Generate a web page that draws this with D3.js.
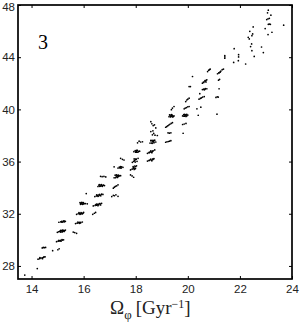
<!DOCTYPE html>
<html>
<head>
<meta charset="utf-8">
<script src="https://cdn.jsdelivr.net/npm/d3@7"></script>
<style>
  html, body { margin: 0; padding: 0; background: #fff; }
  svg { display: block; }
</style>
</head>
<body>
<div id="chart"></div>
<script>
// Values, one line per clump of points.
const omega = [
  13.74, 14.22,
  14.25, 14.31, 14.36, 14.41, 14.46, 14.52, 14.32, 14.42, 14.48,
  14.41, 14.45, 14.49, 14.54,
  14.81, 15.01, 15.06,
  14.96, 15.02, 15.07, 15.12, 15.18, 15.23, 15.05, 15.13, 15.17,
  14.99, 15.04, 15.08, 15.11, 15.15, 15.18, 15.22, 15.27, 15.3, 15.12, 15.17, 15.21, 15.1, 15.19, 15.25,
  15.05, 15.12, 15.16, 15.2, 15.25, 15.3, 15.16, 15.22, 15.26,
  15.6, 15.66, 15.73,
  15.69, 15.75, 15.8, 15.84, 15.89, 15.95, 15.78, 15.84, 15.88,
  15.73, 15.79, 15.84, 15.88, 15.92, 15.96, 16.0, 15.82, 15.86, 15.9, 15.94, 15.98,
  15.86, 15.88, 15.91, 15.94, 15.97, 16.0, 16.07, 16.14, 16.1, 15.9, 15.93, 15.96, 15.99, 16.02, 15.89,
  16.35, 16.41, 16.46,
  16.37, 16.44, 16.5, 16.54, 16.58, 16.63, 16.69, 16.5, 16.55, 16.6, 16.65, 16.47,
  16.43, 16.49, 16.53, 16.57, 16.6, 16.64, 16.69, 16.74, 16.5, 16.55, 16.6, 16.66, 16.62,
  16.55, 16.59, 16.62, 16.66, 16.7, 16.74, 16.8, 16.6, 16.65, 16.68, 16.72, 16.76,
  16.65, 16.71, 16.78, 16.85,
  17.08, 17.14, 17.18, 17.24, 17.32,
  17.14, 17.18, 17.22, 17.27, 17.32,
  17.17, 17.21, 17.25, 17.29, 17.33, 17.37, 17.42, 17.22, 17.26, 17.3, 17.34, 17.28,
  17.17, 17.32, 17.37, 17.42, 17.46, 17.51, 17.38, 17.42, 17.44,
  17.8, 17.86, 17.92,
  17.8, 17.86, 17.9, 17.93, 17.97, 18.0, 18.03, 17.9, 17.94, 17.96, 17.99, 17.92,
  17.42, 17.49, 17.55,
  17.87, 17.92, 17.96, 18.0, 18.05, 18.09, 17.94, 17.98, 18.02, 17.96,
  17.93, 17.98, 18.02, 18.06, 18.11, 18.15, 18.0, 18.04, 18.08, 18.02,
  18.07, 18.13, 18.19, 18.26,
  18.45, 18.51, 18.56, 18.61, 18.66, 18.7, 18.52, 18.58, 18.62, 18.66,
  18.45, 18.51, 18.56, 18.61, 18.67, 18.73, 18.52, 18.58, 18.62, 18.64,
  18.55, 18.59, 18.63, 18.67, 18.7, 18.73, 18.77, 18.58, 18.62, 18.66, 18.7, 18.64, 18.68,
  18.58, 18.64, 18.69, 18.74, 18.83, 18.66,
  18.58, 18.62, 18.67, 18.72, 18.77,
  19.15, 19.2, 19.25, 19.3, 19.35,
  19.24, 19.29, 19.35,
  19.15, 19.19, 19.23, 19.27, 19.31, 19.36, 19.41,
  19.28, 19.32, 19.36, 19.4, 19.44, 19.47, 19.3, 19.34, 19.38, 19.42, 19.36,
  19.37, 19.41, 19.47,
  19.8, 19.86, 19.93,
  19.82,
  19.8, 19.84, 19.88, 19.92, 19.96, 20.0, 19.85, 19.88, 19.93, 19.96, 19.9,
  19.86, 19.9, 19.95, 20.0, 20.05,
  19.92, 19.96, 20.0, 20.05,
  20.46, 20.05, 20.1, 20.18,
  20.35, 20.5, 20.4,
  20.43, 20.48, 20.52, 20.57, 20.63,
  20.56, 20.61, 20.66, 20.73, 20.63, 20.67,
  20.56, 20.61, 20.66, 20.7, 20.73, 20.6, 20.66, 20.7,
  20.76, 20.8, 20.83, 20.86,
  21.12,
  21.08, 21.13, 21.17,
  21.2,
  21.18, 21.22,
  21.14, 21.19, 21.24, 21.27, 21.32, 21.37, 21.25, 21.2,
  21.42, 21.42, 21.42,
  21.78,
  21.76, 21.94, 21.95, 21.95,
  22.22,
  22.45, 22.41, 22.46, 22.55,
  22.32, 22.36, 22.49, 22.38, 22.51, 22.46,
  22.83, 22.9,
  22.97, 23.08, 23.23,
  23.09, 23.13, 23.17,
  23.03, 23.08, 23.13,
  23.09, 23.06, 23.19,
  23.68
];

const angMom = [
  27.3, 27.8,
  28.52, 28.56, 28.6, 28.62, 28.66, 28.7, 28.64, 28.56, 28.7,
  29.38, 29.42, 29.4, 29.42,
  29.17, 29.24, 29.32,
  29.86, 29.9, 29.92, 29.96, 29.98, 30.0, 29.96, 29.9, 30.02,
  30.58, 30.62, 30.66, 30.6, 30.7, 30.65, 30.72, 30.7, 30.75, 30.72, 30.6, 30.66, 30.66, 30.74, 30.64,
  31.35, 31.38, 31.42, 31.36, 31.45, 31.42, 31.36, 31.44, 31.38,
  30.6, 30.56, 30.5,
  31.25, 31.28, 31.31, 31.27, 31.34, 31.37, 31.36, 31.34, 31.3,
  31.96, 32.0, 32.03, 31.99, 32.05, 32.02, 32.1, 32.08, 31.96, 32.08, 31.98, 32.06,
  32.85, 32.72, 32.84, 32.74, 32.83, 32.76, 32.78, 32.76, 33.55, 32.78, 32.88, 32.72, 32.86, 32.78, 32.8,
  31.96, 32.04, 32.1,
  32.6, 32.64, 32.66, 32.72, 32.7, 32.78, 32.8, 32.74, 32.62, 32.78, 32.68, 32.7,
  33.32, 33.36, 33.42, 33.36, 33.46, 33.4, 33.5, 33.48, 33.44, 33.34, 33.46, 33.38, 33.46,
  34.09, 34.18, 34.1, 34.2, 34.14, 34.18, 34.16, 34.24, 34.12, 34.24, 34.1, 34.2,
  34.87, 34.84, 34.86, 34.82,
  33.32, 33.42, 33.38, 33.45, 33.34,
  33.96, 34.04, 34.1, 34.14, 34.22,
  34.76, 34.96, 34.82, 34.94, 34.86, 34.9, 34.92, 34.76, 34.98, 34.78, 34.96, 34.88,
  35.6, 35.5, 35.58, 35.52, 35.6, 35.56, 35.52, 35.62, 35.5,
  34.98, 34.9, 34.8,
  35.36, 35.42, 35.5, 35.56, 35.46, 35.62, 35.68, 35.62, 35.4, 35.66, 35.46, 35.5,
  36.25, 36.17, 36.12,
  35.94, 36.02, 36.1, 36.18, 36.02, 36.25, 36.2, 35.96, 36.18, 36.06,
  36.76, 36.84, 36.72, 36.86, 36.78, 36.8, 36.72, 36.86, 36.72, 36.78,
  37.44, 37.56, 37.5, 37.52,
  36.04, 36.08, 36.14, 36.1, 36.2, 36.22, 36.1, 36.18, 36.06, 36.16,
  36.63, 36.68, 36.74, 36.72, 36.82, 36.89, 36.7, 36.82, 36.68, 36.8,
  37.42, 37.62, 37.4, 37.6, 37.5, 37.64, 37.5, 37.6, 37.42, 37.62, 37.44, 37.52, 37.56,
  38.3, 38.05, 38.16, 38.02, 38.0, 38.36,
  39.06, 38.9, 38.76, 38.82, 38.58,
  37.48, 37.52, 37.54, 37.56, 37.6,
  38.2, 38.18, 38.2,
  38.63, 38.68, 38.74, 38.8, 38.86, 38.92, 38.98,
  39.44, 39.56, 39.48, 39.54, 39.46, 39.5, 39.58, 39.42, 39.6, 39.42, 39.5,
  39.98, 40.1, 40.22,
  38.84, 38.88, 38.92,
  38.17,
  39.5, 39.6, 39.48, 39.58, 39.5, 39.56, 39.48, 39.62, 39.46, 39.62, 39.55,
  40.04, 40.1, 40.14, 40.2, 40.22,
  40.6, 40.72, 40.78, 40.86,
  41.2, 41.75, 41.75, 42.52,
  40.04, 40.17, 39.55,
  40.78, 40.84, 40.88, 40.94, 40.98,
  41.52, 41.56, 41.54, 41.58, 41.5, 41.6,
  42.01, 42.06, 42.14, 42.22, 42.27, 42.1, 42.2, 42.1,
  42.9, 43.0, 43.04, 43.09,
  39.63,
  40.92, 40.96, 40.94,
  41.58,
  42.24, 42.3,
  42.73, 42.8, 42.86, 42.94, 43.04, 43.09, 42.88, 42.8,
  43.92, 44.02, 44.12,
  44.65,
  43.6, 43.73, 44.02, 44.19,
  43.48,
  45.02, 44.81, 44.5, 44.06,
  45.52, 45.4, 45.78, 45.98, 46.32, 45.65,
  44.78, 44.35,
  46.19, 45.73, 45.91,
  46.52, 46.54, 46.52,
  46.88, 46.94, 46.98,
  47.6, 47.4, 47.22,
  46.45
];

const xTicks = [14, 16, 18, 20, 22, 24];
const yTicks = [28, 32, 36, 40, 44, 48];
const panelLabel = "3";

const width = 300, height = 328;
const margin = { top: 5, right: 8, bottom: 49, left: 18 };

const svg = d3.select("#chart").append("svg")
  .attr("width", width)
  .attr("height", height);

const x = d3.scaleLinear().domain([13.48, 24]).range([margin.left, width - margin.right]);
const y = d3.scaleLinear().domain([27, 48]).range([height - margin.bottom, margin.top]);

const tickFont = "11.5px 'Liberation Sans', Arial, sans-serif";

// Ticks point inwards, on all four sides.
function styleAxis(g, hideText) {
  g.selectAll(".domain").remove();
  g.selectAll("line").attr("stroke", "#000").attr("stroke-width", 1);
  g.selectAll("text").style("font", tickFont).attr("fill", "#222");
  if (hideText) g.selectAll("text").remove();
}

svg.append("g")
  .attr("transform", `translate(0,${height - margin.bottom})`)
  .call(d3.axisBottom(x).tickValues(xTicks).tickSize(-3).tickPadding(6))
  .call(styleAxis, false);

svg.append("g")
  .attr("transform", `translate(0,${margin.top})`)
  .call(d3.axisTop(x).tickValues(xTicks).tickSize(-3))
  .call(styleAxis, true);

svg.append("g")
  .attr("transform", `translate(${margin.left},0)`)
  .call(d3.axisLeft(y).tickValues(yTicks).tickSize(-3).tickPadding(3))
  .call(styleAxis, false)
  // top label sits a little lower so it stays inside the page
  .call(g => g.selectAll("text").filter(d => d === 48).attr("y", 1.5));

svg.append("g")
  .attr("transform", `translate(${width - margin.right},0)`)
  .call(d3.axisRight(y).tickValues(yTicks).tickSize(-3))
  .call(styleAxis, true);

// Frame
svg.append("rect")
  .attr("x", margin.left)
  .attr("y", margin.top)
  .attr("width", width - margin.left - margin.right)
  .attr("height", height - margin.top - margin.bottom)
  .attr("fill", "none")
  .attr("stroke", "#000")
  .attr("stroke-width", 1.7);

// Points
svg.append("g")
  .selectAll("circle")
  .data(omega)
  .enter()
  .append("circle")
  .attr("cx", function(d) { return x(d); })
  .attr("cy", function(d, i) { return y(angMom[i]); })
  .attr("r", 0.85)
  .attr("fill", "#000");

// Panel number
svg.append("text")
  .attr("x", 43)
  .attr("y", 49)
  .attr("text-anchor", "middle")
  .style("font", "20px 'Liberation Serif', 'Times New Roman', serif")
  .text(panelLabel);

// Axis title with subscript and superscript
const title = svg.append("text")
  .attr("x", 110)
  .attr("y", 314)
  .attr("fill", "#222")
  .style("font", "19px 'Liberation Serif', 'Times New Roman', serif");
title.append("tspan").text("Ω");
title.append("tspan").attr("dy", 5).style("font-size", "13px").text("φ");
title.append("tspan").attr("dy", -5).attr("dx", 4).text("[Gyr");
title.append("tspan").attr("dy", -6).style("font-size", "12px").text("−1");
title.append("tspan").attr("dy", 6).text("]");
</script>
</body>
</html>
